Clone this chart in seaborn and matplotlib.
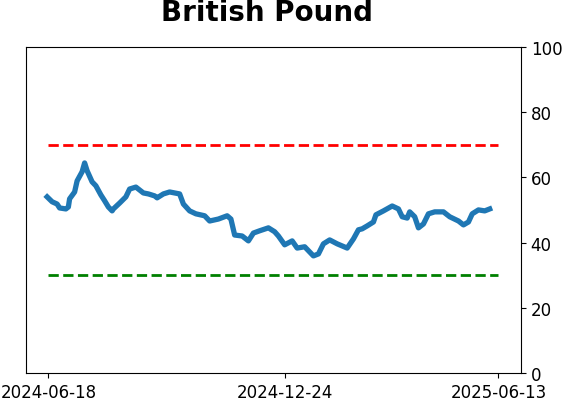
import matplotlib
matplotlib.use("Agg")
import matplotlib.pyplot as plt
import matplotlib.dates as mdates
import seaborn as sns
import pandas as pd

# -----------------------------
# Data
# -----------------------------
dates = [
    "2024-06-17", "2024-06-21", "2024-06-25", "2024-06-27", "2024-07-02", "2024-07-04",
    "2024-07-05", "2024-07-09", "2024-07-11", "2024-07-15", "2024-07-17", "2024-07-19",
    "2024-07-23", "2024-07-26", "2024-07-30", "2024-08-02", "2024-08-05", "2024-08-08",
    "2024-08-09", "2024-08-14", "2024-08-19", "2024-08-22", "2024-08-27", "2024-09-02",
    "2024-09-06", "2024-09-11", "2024-09-13", "2024-09-18", "2024-09-23", "2024-09-27",
    "2024-10-01", "2024-10-04", "2024-10-09", "2024-10-14", "2024-10-21", "2024-10-25",
    "2024-11-01", "2024-11-08", "2024-11-11", "2024-11-14", "2024-11-20", "2024-11-25",
    "2024-11-29", "2024-12-04", "2024-12-11", "2024-12-16", "2024-12-19", "2024-12-24",
    "2024-12-30", "2025-01-03", "2025-01-09", "2025-01-16", "2025-01-20", "2025-01-24",
    "2025-01-29", "2025-02-04", "2025-02-12", "2025-02-17", "2025-02-21", "2025-02-24",
    "2025-02-28", "2025-03-05", "2025-03-07", "2025-03-13", "2025-03-20", "2025-03-25",
    "2025-03-28", "2025-04-01", "2025-04-03", "2025-04-07", "2025-04-10", "2025-04-14",
    "2025-04-18", "2025-04-23", "2025-04-30", "2025-05-05", "2025-05-12", "2025-05-16",
    "2025-05-20", "2025-05-23", "2025-05-28", "2025-06-02", "2025-06-06",
]
values = [
    54.0, 52.5, 51.8, 50.6, 50.3, 50.9,
    53.4, 55.5, 58.9, 61.7, 64.4, 62.0,
    58.6, 57.4, 54.6, 52.8, 50.9, 49.7,
    50.3, 52.1, 54.0, 56.4, 57.0, 55.2,
    54.9, 54.3, 53.7, 54.9, 55.5, 55.2,
    54.9, 51.8, 49.7, 48.8, 48.2, 46.6,
    47.2, 48.2, 47.2, 42.3, 42.0, 40.5,
    42.9, 43.6, 44.5, 43.3, 42.0, 39.3,
    40.5, 38.3, 38.7, 35.9, 36.5, 39.6,
    40.8, 39.6, 38.3, 41.1, 43.9, 44.2,
    45.1, 46.3, 48.5, 49.7, 51.2, 50.3,
    47.9, 47.5, 49.4, 47.9, 44.5, 45.7,
    48.8, 49.4, 49.4, 47.9, 46.6, 45.4,
    46.3, 48.8, 50.0, 49.7, 50.3,
]
tick_dates = ["2024-06-18", "2024-12-24", "2025-06-13"]
upper_level = 70
lower_level = 30

df = pd.DataFrame({"date": pd.to_datetime(dates), "value": values})
ticks = pd.to_datetime(tick_dates)

# -----------------------------
# Plot
# -----------------------------
fig = plt.figure(figsize=(5.62, 4.02), dpi=100)
ax = fig.add_axes([0.046, 0.0697, 0.881, 0.8113])

sns.lineplot(data=df, x="date", y="value", ax=ax, color="#1f77b4", linewidth=3.8)
ax.plot([ticks[0], ticks[-1]], [upper_level, upper_level], color="red", linestyle="--", linewidth=2)
ax.plot([ticks[0], ticks[-1]], [lower_level, lower_level], color="green", linestyle="--", linewidth=2)

start = ticks[0] - pd.Timedelta(days=18)
end = ticks[-1] + pd.Timedelta(days=18)
ax.set_xlim(start, end)
ax.set_ylim(0, 100)
ax.set_xticks(ticks)
ax.xaxis.set_major_formatter(mdates.DateFormatter("%Y-%m-%d"))
ax.yaxis.tick_right()
ax.tick_params(labelsize=12)
ax.set_xlabel("")
ax.set_ylabel("")
ax.set_title("British Pound", fontsize=20, fontweight="bold", pad=19, x=0.488)

plt.savefig("out.png", dpi=100)
